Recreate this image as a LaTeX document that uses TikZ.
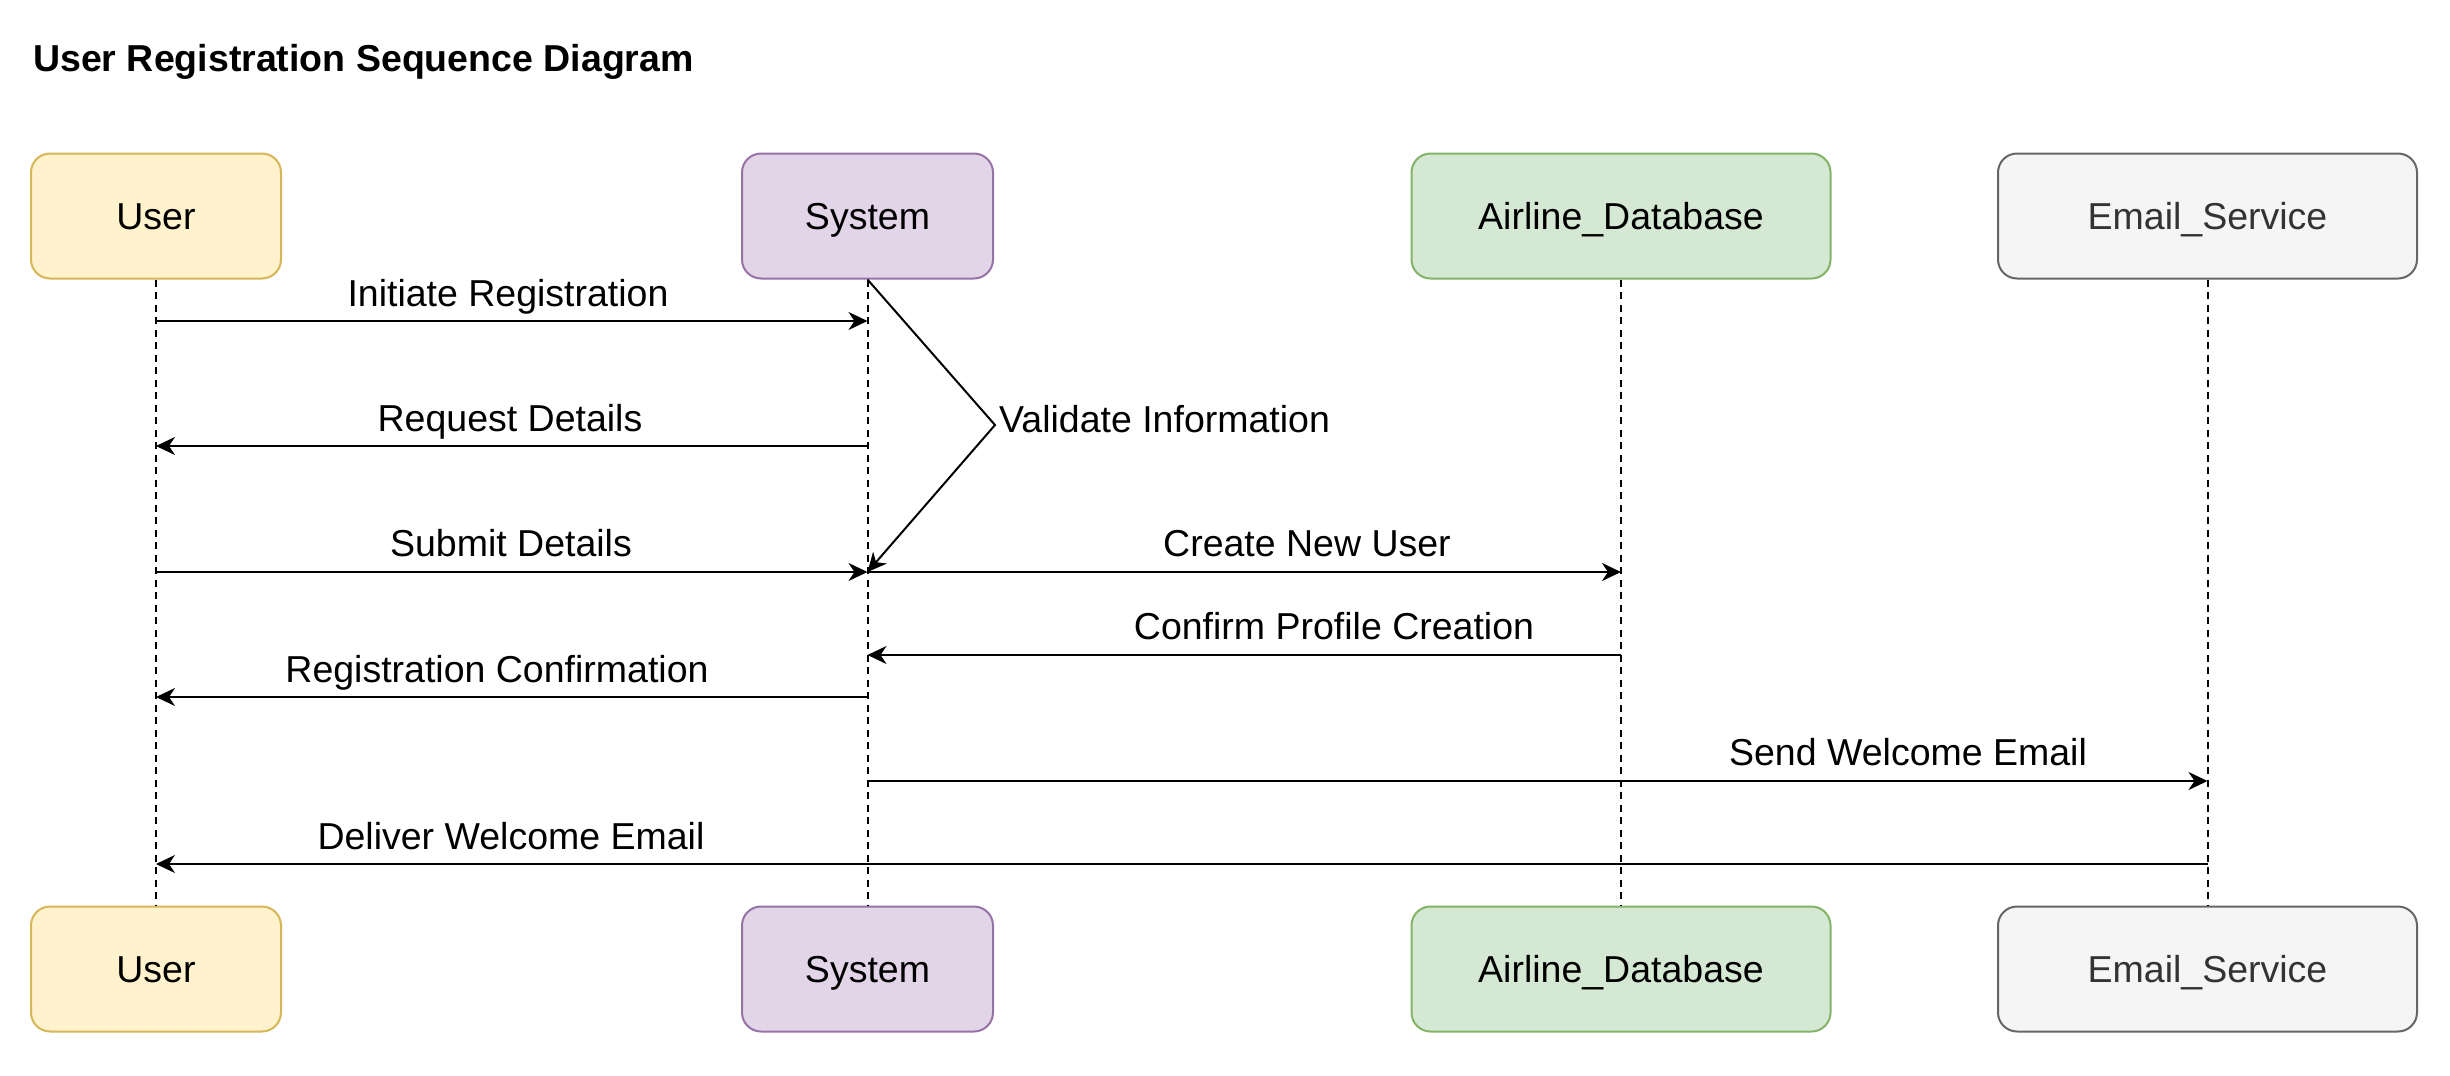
\documentclass[tikz,border=0pt]{standalone}
\usepackage{fontspec}
\setmainfont{Liberation Sans}
\usetikzlibrary{arrows.meta}
\definecolor{yfill}{HTML}{FFF2CC}\definecolor{ydraw}{HTML}{D6B656}
\definecolor{pfill}{HTML}{E1D5E7}\definecolor{pdraw}{HTML}{9673A6}
\definecolor{gfill}{HTML}{D5E8D4}\definecolor{gdraw}{HTML}{82B366}
\definecolor{efill}{HTML}{F5F5F5}\definecolor{edraw}{HTML}{666666}
\definecolor{etext}{HTML}{333333}
\begin{document}
\begin{tikzpicture}[x=1pt,y=-1pt,
  every node/.style={font=\fontsize{37.5}{45}\selectfont},
  actor/.style={draw, rounded corners=19pt, line width=2pt, minimum height=125pt, inner sep=0pt, align=center, text height=27pt, text depth=1pt},
  useractor/.style={actor, fill=yfill, draw=ydraw, minimum width=250pt},
  sysactor/.style={actor, fill=pfill, draw=pdraw, minimum width=251pt},
  dbactor/.style={actor, fill=gfill, draw=gdraw, minimum width=419pt},
  mailactor/.style={actor, fill=efill, draw=edraw, text=etext, minimum width=419pt},
  lifeline/.style={line width=2pt, dash pattern=on 7pt off 5.5pt},
  msg/.style={line width=2pt, -{Stealth[length=19pt,width=18pt,inset=6pt]}},
  lbl/.style={anchor=base, inner sep=0pt}]
\useasboundingbox (0,0) rectangle (2450,1076);

\node[anchor=base west, inner sep=0pt, font=\bfseries\fontsize{37.5}{45}\selectfont] (title) at (33,71) {User Registration Sequence Diagram};

% actors top
\node[useractor] (uT) at (156,216) {User};
\node[sysactor] (sT) at (867.5,216) {System};
\node[dbactor] (aT) at (1621,216) {Airline\_Database};
\node[mailactor] (eT) at (2207.5,216) {Email\_Service};
% actors bottom
\node[useractor] (uB) at (156,969) {User};
\node[sysactor] (sB) at (867.5,969) {System};
\node[dbactor] (aB) at (1621,969) {Airline\_Database};
\node[mailactor] (eB) at (2207.5,969) {Email\_Service};

% lifelines
\draw[lifeline] (uT.south) -- (uB.north);
\draw[lifeline] (sT.south) -- (sB.north);
\draw[lifeline] (aT.south) -- (aB.north);
\draw[lifeline] (eT.south) -- (eB.north);

% message rows
\coordinate (y1) at (0,321);
\coordinate (y2) at (0,446);
\coordinate (y3) at (0,572);
\coordinate (y4) at (0,655);
\coordinate (y5) at (0,697);
\coordinate (y6) at (0,781);
\coordinate (y7) at (0,864);
\coordinate (vpt) at (995,425);

\draw[msg] (uT |- y1) -- (sT |- y1);
\node[lbl] (l1) at (508,306) {Initiate Registration};

\draw[msg] (sT |- y2) -- (uT |- y2);
\node[lbl] (l2) at (510,431) {Request Details};

\draw[msg] (sT.south) -- (vpt) -- (sT |- y3);
\node[anchor=base west, inner sep=0pt] (l0) at (999,432) {Validate Information};

\draw[msg] (uT |- y3) -- (sT |- y3);
\node[lbl] (l3) at (511,556) {Submit Details};

\draw[msg] (sT |- y3) -- (aT |- y3);
\node[lbl] (l4) at (1307,556) {Create New User};

\draw[msg] (aT |- y4) -- (sT |- y4);
\node[lbl] (l5) at (1334,639) {Confirm Profile Creation};

\draw[msg] (sT |- y5) -- (uT |- y5);
\node[lbl] (l6) at (497,682) {Registration Confirmation};

\draw[msg] (sT |- y6) -- (eT |- y6);
\node[lbl] (l7) at (1908,765) {Send Welcome Email};

\draw[msg] (eT |- y7) -- (uT |- y7);
\node[lbl] (l8) at (511,849) {Deliver Welcome Email};
\end{tikzpicture}
\end{document}
